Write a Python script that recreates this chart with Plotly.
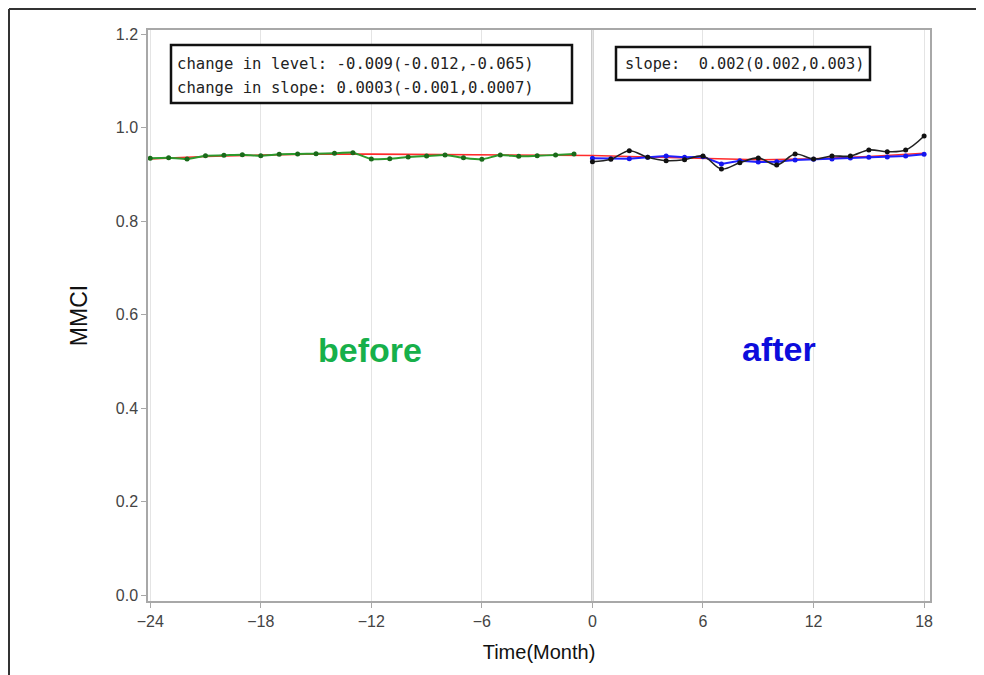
import plotly.graph_objects as go

# ---------------- data ----------------
months_before = list(range(-24, 0))
mmci_before = [0.9341, 0.9354, 0.9326, 0.9397, 0.9405, 0.9418, 0.9397, 0.9427,
               0.9433, 0.9440, 0.9448, 0.9461, 0.9326, 0.9333, 0.9369, 0.9390,
               0.9412, 0.9354, 0.9320, 0.9412, 0.9384, 0.9397, 0.9412, 0.9433]

months_after = list(range(0, 19))
mmci_after_obs = [0.9268, 0.9320, 0.9504, 0.9363, 0.9290, 0.9311, 0.9390, 0.9112,
                  0.9247, 0.9350, 0.9198, 0.9433, 0.9326, 0.9390, 0.9390, 0.9519,
                  0.9483, 0.9519, 0.9818]
mmci_after_pred = [0.9341, 0.9333, 0.9333, 0.9363, 0.9390, 0.9363, 0.9376, 0.9219,
                   0.9290, 0.9260, 0.9268, 0.9305, 0.9320, 0.9326, 0.9348, 0.9363,
                   0.9369, 0.9390, 0.9427]

fit_months = [-24, -21, -18, -15, -12, -9, -6, -3, 0, 3, 6, 9, 12, 15, 18]
fit_values = [0.933, 0.938, 0.941, 0.9435, 0.943, 0.942, 0.941, 0.9405, 0.940,
              0.937, 0.934, 0.931, 0.933, 0.938, 0.945]

x_ticks = [-24, -18, -12, -6, 0, 6, 12, 18]
y_ticks = [0.0, 0.2, 0.4, 0.6, 0.8, 1.0, 1.2]

text_level = "change in level: -0.009(-0.012,-0.065)"
text_slope_change = "change in slope: 0.0003(-0.001,0.0007)"
text_slope = "slope:  0.002(0.002,0.003)"

# ---------------- layout helpers (window pixel coords) ----------------
OFF = 8                      # default page body margin
W, H = 984 - OFF, 675 - OFF  # figure size so it fills the window
PL, PR, PT, PB = 148, 930, 30, 601   # plot area in window pixels


def px(x):
    return (x - PL) / (PR - PL)


def py(y):
    return (PB - y) / (PB - PT)


fig = go.Figure()

fig.add_trace(go.Scatter(x=fit_months, y=fit_values, mode="lines",
                         line=dict(color="#ff2b2b", width=1.6), hoverinfo="skip"))
fig.add_trace(go.Scatter(x=months_before, y=mmci_before, mode="lines+markers",
                         line=dict(color="#2c9a2c", width=2, shape="spline", smoothing=0.6),
                         marker=dict(color="#1a6a1a", size=5)))
fig.add_trace(go.Scatter(x=months_after, y=mmci_after_pred, mode="lines+markers",
                         line=dict(color="#2020ff", width=2),
                         marker=dict(color="#1515ee", size=5)))
fig.add_trace(go.Scatter(x=months_after, y=mmci_after_obs, mode="lines+markers",
                         line=dict(color="#222222", width=1.6, shape="spline", smoothing=1),
                         marker=dict(color="#111111", size=5)))

fig.update_layout(
    width=W, height=H,
    margin=dict(l=PL - OFF, r=984 - PR, t=PT - OFF, b=675 - PB),
    paper_bgcolor="white", plot_bgcolor="white",
    showlegend=False,
    font=dict(family="Liberation Sans, Arial, sans-serif", color="#444"),
)

fig.update_xaxes(
    range=[-24.12, 18.32], tickmode="array", tickvals=x_ticks,
    ticktext=[str(v).replace("-", "\u2212") for v in x_ticks],
    showgrid=True, gridcolor="#e4e4e4", gridwidth=1, zeroline=False,
    showline=True, linecolor="#a8a8a8", linewidth=1.5, mirror=True,
    ticks="outside", ticklen=5, tickcolor="#a8a8a8",
    tickfont=dict(size=16, color="#444"),
    title=dict(text="Time(Month)", font=dict(size=20, color="#111"), standoff=16),
)
fig.update_yaxes(
    range=[-0.0128, 1.2086], tickmode="array", tickvals=y_ticks,
    ticktext=[f"{v:.1f}" for v in y_ticks],
    showgrid=False, zeroline=False,
    showline=True, linecolor="#a8a8a8", linewidth=1.5, mirror=True,
    ticks="outside", ticklen=5, tickcolor="#a8a8a8",
    tickfont=dict(size=16, color="#444"),
    title=dict(text="MMCI", font=dict(size=23, color="#111"), standoff=22),
)

# vertical interruption line at month 0
fig.add_shape(type="line", xref="x", yref="paper", x0=0, x1=0, y0=0, y1=1,
              line=dict(color="#a0a0a0", width=2), layer="below")

# annotation boxes
fig.add_shape(type="rect", xref="paper", yref="paper",
              x0=px(171), x1=px(572), y0=py(103), y1=py(45),
              line=dict(color="#111", width=2.5), fillcolor="white")
fig.add_shape(type="rect", xref="paper", yref="paper",
              x0=px(616), x1=px(870), y0=py(80), y1=py(47),
              line=dict(color="#111", width=2.5), fillcolor="white")

box_font = dict(family="DejaVu Sans Mono, monospace", size=15.6, color="#222")
fig.add_annotation(x=px(175), y=py(64), xref="paper", yref="paper", text=text_level,
                   showarrow=False, xanchor="left", yanchor="middle", font=box_font)
fig.add_annotation(x=px(175), y=py(88), xref="paper", yref="paper", text=text_slope_change,
                   showarrow=False, xanchor="left", yanchor="middle", font=box_font)
fig.add_annotation(x=px(623), y=py(64), xref="paper", yref="paper", text=text_slope,
                   showarrow=False, xanchor="left", yanchor="middle",
                   font=dict(family="DejaVu Sans Mono, monospace", size=15.3, color="#222"))

# period labels
fig.add_annotation(x=px(370), y=py(350), xref="paper", yref="paper", text="<b>before</b>",
                   showarrow=False, xanchor="center", yanchor="middle",
                   font=dict(family="Liberation Sans, Arial", size=34, color="#17b04a"))
fig.add_annotation(x=px(779), y=py(349), xref="paper", yref="paper", text="<b>after</b>",
                   showarrow=False, xanchor="center", yanchor="middle",
                   font=dict(family="Liberation Sans, Arial", size=34, color="#0c0cdc"))

# outer frame of the figure (top and left edges)
fig.add_shape(type="line", xref="paper", yref="paper", x0=px(9), x1=px(990), y0=py(9), y1=py(9),
              line=dict(color="#333", width=2))
fig.add_shape(type="line", xref="paper", yref="paper", x0=px(9), x1=px(9), y0=py(9), y1=py(675),
              line=dict(color="#333", width=2))

fig.write_html("out.html")
